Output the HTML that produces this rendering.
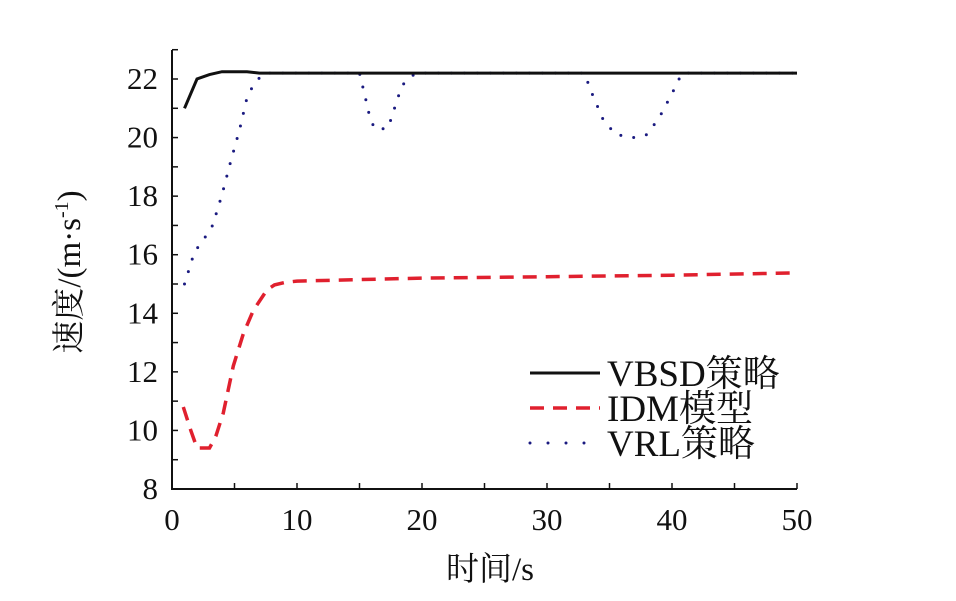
<!DOCTYPE html>
<html><head><meta charset="utf-8"><style>
html,body{margin:0;padding:0;background:#fff;}
svg{display:block;}
text{font-family:"Liberation Serif","Noto Serif CJK SC",serif;fill:#111;}
</style></head><body>
<svg id="c" width="956" height="601" xmlns="http://www.w3.org/2000/svg"></svg>
<script>
const xTicks=[0,10,20,30,40,50];
const yTicks=[8,10,12,14,16,18,20,22];
const vbsdT=[1,2,3,4,6,7,50];
const vbsdV=[21.0,22.0,22.15,22.25,22.25,22.2,22.2];
const idmT=[0.9,1.5,2,3,3.5,4.1,4.9,5.7,6.5,7.6,8.2,9,10,20,30,40,50];
const idmV=[10.8,10.0,9.4,9.4,9.8,10.6,12.2,13.3,14.1,14.8,14.97,15.05,15.1,15.2,15.25,15.3,15.38];
const vrlT=[1,1.8,2.5,3.25,4,4.7,5.4,6,6.6,7.4,15,15.5,15.8,16.2,17.2,17.6,18,18.6,19.5,33,33.5,34.5,35.5,37,38,39,40,40.8,50];
const vrlV=[15.0,16.1,16.5,17.0,18.05,19.2,20.26,21.36,21.87,22.2,22.2,21.3,20.74,20.3,20.3,20.7,21.3,21.9,22.2,22.2,21.6,20.6,20.1,20.0,20.1,20.7,21.5,22.2,22.2];
const svg=document.getElementById('c');
const NS='http://www.w3.org/2000/svg';
const X0=172,X1=797,Y0=489,Y1=79;
const sx=t=>X0+(t-0)/(50-0)*(X1-X0);
const sy=v=>Y0-(v-8)/(22-8)*(Y0-Y1);
function mk(tag,attrs){const e=document.createElementNS(NS,tag);for(const k in attrs)e.setAttribute(k,attrs[k]);svg.appendChild(e);return e;}
let e;
e=mk('path',{d:`M${X0},50 L${X0},${Y0} L${X1},${Y0}`,fill:'none',stroke:'#111','stroke-width':2});


for(let v=8;v<=23;v++){e=mk('line',{x1:X0,x2:X0+6,y1:sy(v),y2:sy(v),stroke:'#111','stroke-width':1.5});

}
for(let t=0;t<=50;t+=5){e=mk('line',{x1:sx(t),x2:sx(t),y1:Y0,y2:Y0-6,stroke:'#111','stroke-width':1.5});

}
yTicks.forEach(v=>{e=mk('text',{x:158,y:sy(v)+10,'text-anchor':'end','font-size':31});e.textContent=v;

});
xTicks.forEach(t=>{e=mk('text',{x:sx(t),y:530,'text-anchor':'middle','font-size':31});e.textContent=t;

});
e=mk('text',{x:490,y:580,'text-anchor':'middle','font-size':33});e.textContent='时间/s';


e=mk('text',{x:0,y:0,'text-anchor':'middle','font-size':33,transform:'translate(80,272) rotate(-90)'});
e.innerHTML='速度/(m·s<tspan dy="-12" font-size="20">-1</tspan><tspan dy="12">)</tspan>';


function line(T,V,style,name){const d=T.map((t,i)=>(i?'L':'M')+sx(t).toFixed(1)+','+sy(V[i]).toFixed(1)).join(' ');
const p=mk('path',Object.assign({d,fill:'none'},style));

}
line(idmT,idmV,{stroke:'#e0202e','stroke-width':3.5,'stroke-dasharray':'14 9'},'idm-series');
line(vrlT,vrlV,{stroke:'#1a1a80','stroke-width':3,'stroke-dasharray':'0 13','stroke-linecap':'round'},'vrl-series');
line(vbsdT,vbsdV,{stroke:'#111','stroke-width':3},'vbsd-series');
const leg=[['VBSD策略',{stroke:'#111','stroke-width':3}],['IDM模型',{stroke:'#e0202e','stroke-width':3.5,'stroke-dasharray':'14 9'}],['VRL策略',{stroke:'#1a1a80','stroke-width':3,'stroke-dasharray':'0 18','stroke-linecap':'round'}]];
leg.forEach((l,i)=>{const y=373+i*35;
e=mk('line',Object.assign({x1:530,x2:600,y1:y,y2:y},l[1]));


e=mk('text',{x:607,y:y+13,'font-size':37});e.textContent=l[0];

});
</script>
</body></html>
